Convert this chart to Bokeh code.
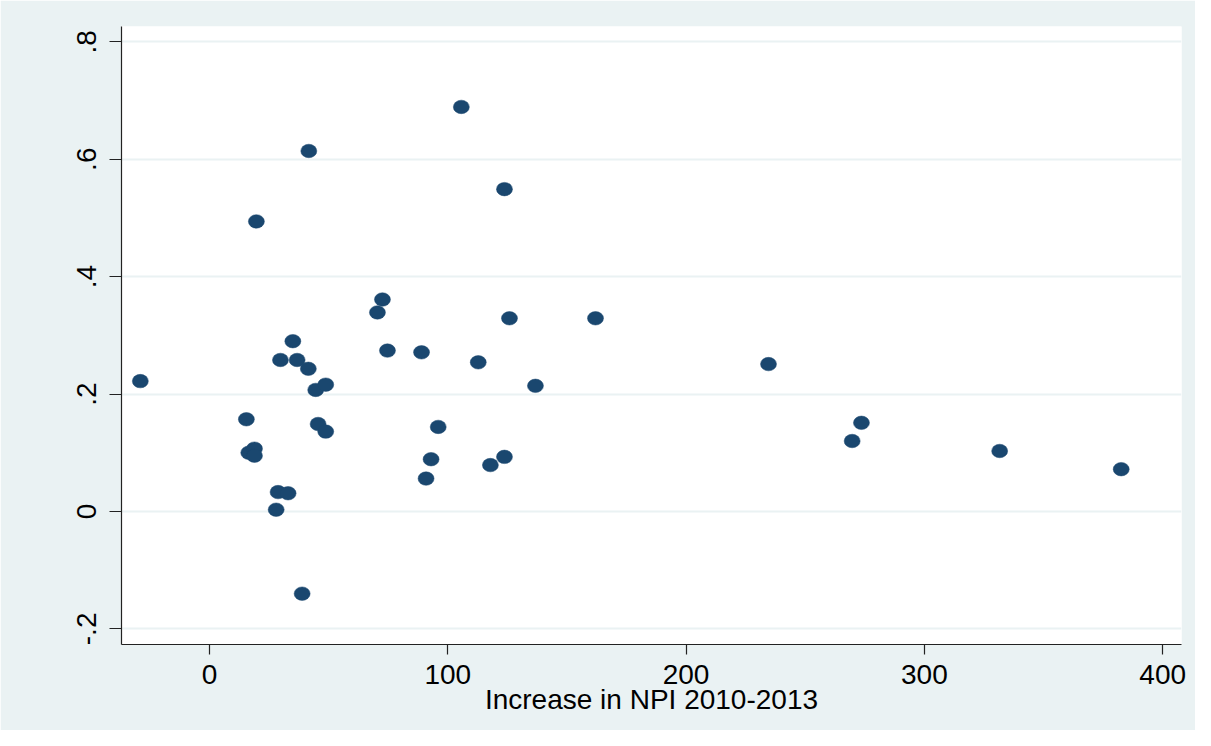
from bokeh.plotting import figure
from bokeh.models import Range1d, FixedTicker
from bokeh.embed import file_html
from bokeh.resources import INLINE

# Data
npi_increase = [-29.0, 15.5, 19.7, 16.5, 18.9, 18.9, 29.8, 35.0, 36.8, 41.5,
                44.6, 48.8, 45.6, 48.8, 28.8, 33.0, 28.0, 38.9, 41.7, 70.5,
                72.6, 74.7, 89.0, 112.8, 125.9, 136.8, 96.0, 93.0, 90.9, 117.9,
                123.8, 105.7, 123.8, 162.0, 234.6, 269.7, 273.6, 331.6, 382.6]
outcome = [0.222, 0.157, 0.494, 0.100, 0.107, 0.095, 0.258, 0.290, 0.258, 0.243,
           0.207, 0.216, 0.149, 0.136, 0.033, 0.031, 0.003, -0.140, 0.614, 0.339,
           0.361, 0.274, 0.271, 0.254, 0.329, 0.214, 0.144, 0.089, 0.056, 0.079,
           0.093, 0.689, 0.549, 0.329, 0.251, 0.120, 0.151, 0.103, 0.072]

x_ticks = [0, 100, 200, 300, 400]
y_ticks = [-0.2, 0.0, 0.2, 0.4, 0.6, 0.8]
y_tick_labels = ["-.2", "0", ".2", ".4", ".6", ".8"]
x_title = "Increase in NPI 2010-2013"

BG = "#EAF2F3"
NAVY = "#1A476F"
FONT = "Liberation Sans"
FS = "28px"

p = figure(width=1195, height=730, output_backend="svg", toolbar_location=None,
           x_range=Range1d(-36.9, 407.9), y_range=Range1d(-0.2266, 0.826),
           min_border_left=121, min_border_right=14, min_border_top=26,
           min_border_bottom=86)

p.background_fill_color = "white"
p.border_fill_color = BG
p.outline_line_color = None

p.ellipse(x=npi_increase, y=outcome, width=16, height=13.5,
          width_units="screen", height_units="screen",
          fill_color=NAVY, line_color=NAVY, line_width=0.5)

# grid
p.xgrid.grid_line_color = None
p.ygrid.grid_line_color = BG
p.ygrid.grid_line_width = 2

# x axis
p.xaxis.ticker = FixedTicker(ticks=x_ticks)
p.xaxis.axis_label = x_title
p.xaxis.axis_label_text_font = FONT
p.xaxis.axis_label_text_font_size = FS
p.xaxis.axis_label_text_font_style = "normal"
p.xaxis.axis_label_text_color = "black"
p.xaxis.axis_label_standoff = -3
p.xaxis.major_label_text_font = FONT
p.xaxis.major_label_text_font_size = FS
p.xaxis.major_label_text_color = "black"
p.xaxis.major_label_standoff = 10
p.xaxis.major_tick_out = 10
p.xaxis.major_tick_in = 0
p.xaxis.minor_tick_line_color = None

# y axis
p.yaxis.ticker = FixedTicker(ticks=y_ticks)
p.yaxis.major_label_overrides = {t: l for t, l in zip(y_ticks, y_tick_labels)}
p.yaxis.major_label_orientation = "vertical"
p.yaxis.major_label_text_font = FONT
p.yaxis.major_label_text_font_size = FS
p.yaxis.major_label_text_color = "black"
p.yaxis.major_label_standoff = 13
p.yaxis.major_tick_out = 12
p.yaxis.major_tick_in = 0
p.yaxis.minor_tick_line_color = None

for ax in (p.xaxis, p.yaxis):
    ax.axis_line_color = "#222222"
    ax.axis_line_width = 1.2
    ax.major_tick_line_color = "#222222"
    ax.major_tick_line_width = 1.2

open("out.html", "w").write(file_html(p, INLINE))
